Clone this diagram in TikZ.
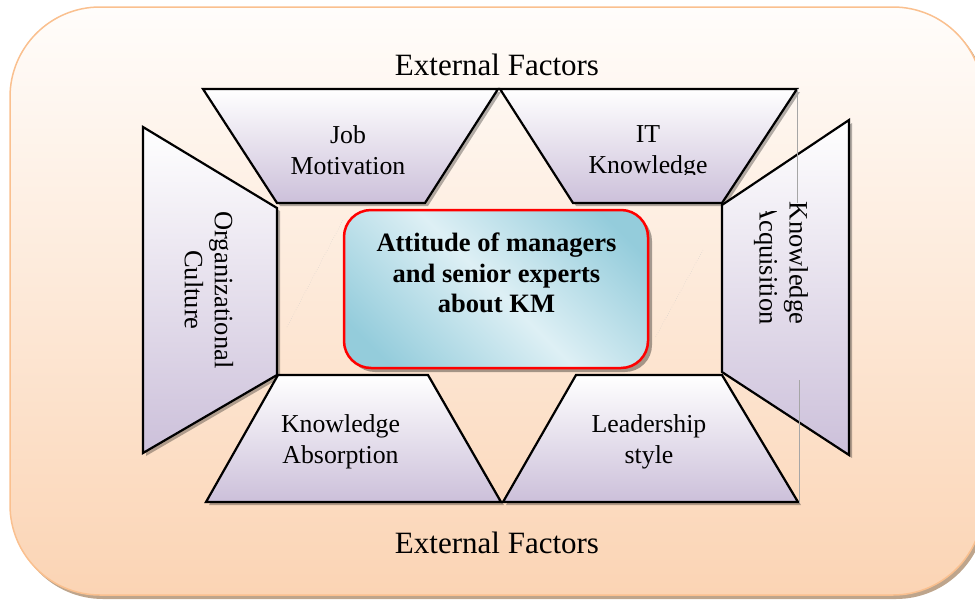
\documentclass[tikz,border=0pt]{standalone}
\usepackage{fontspec}
\setmainfont{Liberation Serif}

% colours
\definecolor{panelTop}{RGB}{255,253,251}
\definecolor{panelBot}{RGB}{251,212,180}
\definecolor{panelLine}{RGB}{250,192,143}
\definecolor{panelShade}{RGB}{190,165,140}
\definecolor{lav}{RGB}{204,192,218}

% light band along one diagonal of the central box
\pgfdeclarehorizontalshading{kmglow}{100bp}{%
  rgb(0bp)=(0.58,0.80,0.86);
  rgb(22bp)=(0.58,0.80,0.86);
  rgb(50bp)=(0.87,0.94,0.96);
  rgb(78bp)=(0.58,0.80,0.86);
  rgb(100bp)=(0.58,0.80,0.86)}

% a shaded, outlined facet with its drop shadow
\newcommand\facetpath[1]{%
  \fill[facetshadow] #1;
  \shade[facet] #1;}

\begin{document}
\begin{tikzpicture}[x=1pt,y=-1pt,
  facet/.style={draw=black, line width=2.2pt, line join=miter,
    top color=white, bottom color=lav},
  facetshadow/.style={fill=black, fill opacity=0.3, xshift=3pt, yshift=-3pt},
  facetlabel/.style={font=\fontsize{25.8}{31}\selectfont, align=center, inner sep=0pt},
  sidelabel/.style={font=\fontsize{26.5}{30}\selectfont, align=center, inner sep=0pt, rotate=-90},
  factors/.style={font=\fontsize{31}{36}\selectfont, inner sep=0pt, anchor=base},
  coretitle/.style={font=\fontsize{26.5}{30.5}\selectfont\bfseries, align=center, inner sep=0pt},
  guide/.style={draw=gray!70, line width=0.6pt},
  faint/.style={draw=gray!45, line width=0.4pt, dotted}]

\useasboundingbox (0,0) rectangle (975,600);

% outer panel
\fill[panelShade, rounded corners=90pt] (13,10) rectangle (986,599);
\shade[draw=panelLine, line width=1.5pt, top color=panelTop, bottom color=panelBot,
  rounded corners=90pt] (10,7) rectangle (983,595);

% external factors
\node[factors] (extTop) at (497,75) {External Factors};
\node[factors] (extBot) at (497,553) {External Factors};

% faint diagonal traces
\draw[faint] (287,327) -- (343,220);
\draw[faint] (703,250) -- (655,338);

% six facets
\facetpath{(203,89) -- (498,89) -- (425,203) -- (277,203) -- cycle}
\facetpath{(500,89) -- (797,89) -- (722,203) -- (573,203) -- cycle}
\facetpath{(143,127) -- (277,208) -- (277,375) -- (143,453) -- cycle}
\facetpath{(849,120) -- (849,455) -- (722,372) -- (722,205) -- cycle}
\facetpath{(278,375) -- (428,375) -- (501,502) -- (206,502) -- cycle}
\facetpath{(576,375) -- (722,375) -- (798,502) -- (503,502) -- cycle}

% central box
\fill[black, fill opacity=0.35, rounded corners=27pt] (348,214) rectangle (652,372);
\node[draw=red, line width=2.5pt, rounded corners=27pt, shading=kmglow, shading angle=45,
  minimum width=304pt, minimum height=158pt, inner sep=0pt] (core) at (496,289) {};
\node[coretitle] (coreText) at (496.5,273.3)
  {Attitude of managers\\and senior experts\\about KM};

% facet labels
\node[facetlabel] (jobMot) at (348,150) {Job\\Motivation};
\begin{scope}
  \clip (560,100) rectangle (740,174.5);
  \node[facetlabel] (itKnow) at (648,152.7) {IT\\Knowledge};
\end{scope}
\node[facetlabel] (knowAbs) at (340.5,441.7) {Knowledge\\Absorption};
\node[facetlabel] (leadStyle) at (649,441.7) {Leadership\\style};
\node[sidelabel] (orgCult) at (209,290) {Organizational\\Culture};
\begin{scope}
  \clip (740,211) -- (785,211) -- (785,190) -- (830,190) -- (830,350) -- (740,350) -- cycle;
  \node[sidelabel] (knowAcq) at (781,263) {Knowledge\\Acquisition};
\end{scope}

% thin guide lines
\draw[guide] (797,89) -- (797,203);
\draw[guide] (799,380) -- (799,503);

\end{tikzpicture}
\end{document}
